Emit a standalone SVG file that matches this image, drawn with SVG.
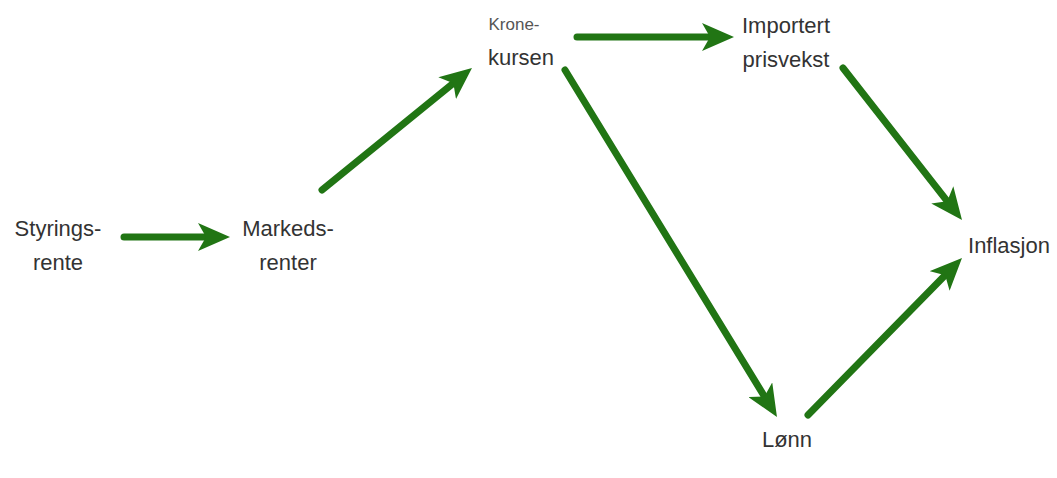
<svg xmlns="http://www.w3.org/2000/svg" width="1057" height="478" viewBox="0 0 1057 478">
<style>
text{font-family:"Liberation Sans",Arial,sans-serif;font-size:22px;fill:#333;text-anchor:middle}
.small{font-size:17px;fill:#555}
.c{stroke:#217514;stroke-width:7;stroke-linecap:round;fill:none}
</style>
<defs>
<marker id="ah" markerUnits="userSpaceOnUse" markerWidth="32" markerHeight="28" refX="19" refY="14" orient="auto" viewBox="0 0 32 28">
<path d="M0,0 L32,14 L0,28 L8,14 z" fill="#217514"/>
</marker>
</defs>
<rect width="1057" height="478" fill="#fff"/>
<g id="connectors">
<line class="c" x1="124" y1="237" x2="217" y2="237" marker-end="url(#ah)"/>
<line class="c" x1="322" y1="190" x2="461.9" y2="76.2" marker-end="url(#ah)"/>
<line class="c" x1="577" y1="37" x2="721" y2="37" marker-end="url(#ah)"/>
<line class="c" x1="565" y1="70" x2="770.2" y2="405.9" marker-end="url(#ah)"/>
<line class="c" x1="843" y1="68" x2="954" y2="209.8" marker-end="url(#ah)"/>
<line class="c" x1="808" y1="415" x2="952.9" y2="267.3" marker-end="url(#ah)"/>
</g>
<g id="styringsrente"><text x="58" y="236">Styrings-</text><text x="58" y="270">rente</text></g>
<g id="markedsrenter"><text x="288" y="236">Markeds-</text><text x="288" y="270">renter</text></g>
<g id="kronekursen"><text class="small" x="514" y="30">Krone-</text><text x="521" y="65">kursen</text></g>
<g id="importert"><text x="786" y="33">Importert</text><text x="786" y="67">prisvekst</text></g>
<g id="inflasjon"><text x="1009" y="253">Inflasjon</text></g>
<g id="lonn"><text x="787" y="447">Lønn</text></g>
</svg>
